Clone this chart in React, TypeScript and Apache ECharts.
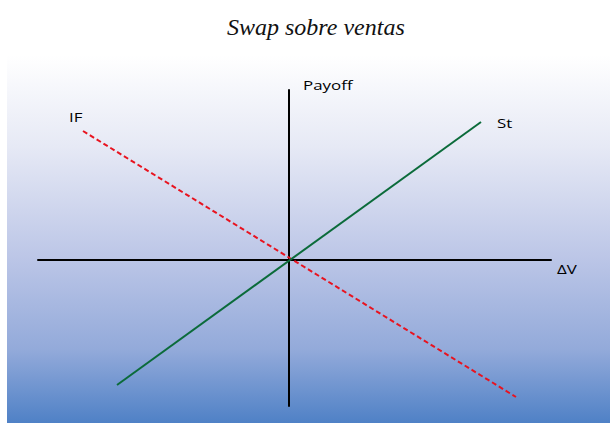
import React, { useEffect, useRef } from "react";
import * as echarts from "echarts";

// Data (ΔV on x, Payoff on y; origin where the axes cross)
const stPoints: number[][] = [
  [-172, -125],
  [192, 138],
];
const ifPoints: number[][] = [
  [-206, 129],
  [227, -137],
];
const xRange = [-251, 262];
const yRange = [-146, 170];
const titleText = "Swap sobre ventas";
const axisNames = { x: "ΔV", y: "Payoff" };
const seriesNames = ["St", "IF"];

export default function App() {
  const ref = useRef<HTMLDivElement>(null);
  useEffect(() => {
    if (!ref.current) return;
    const chart = echarts.init(ref.current, null, { renderer: "svg" });
    const labelFont = { fontFamily: "Open Sans", fontSize: 13, fill: "#000" };
    const sx = 1.3;
    chart.setOption({
      animation: false,
      backgroundColor: "#ffffff",
      title: {
        text: titleText,
        left: 222,
        top: 10,
        textStyle: {
          fontFamily: "Liberation Serif",
          fontStyle: "italic",
          fontWeight: "normal",
          fontSize: 24,
          color: "#111",
        },
      },
      graphic: [
        {
          type: "rect",
          z: -10,
          silent: true,
          shape: { x: 7, y: 55, width: 603, height: 368 },
          style: {
            fill: new echarts.graphic.LinearGradient(0, 0, 0, 1, [
              { offset: 0, color: "#ffffff" },
              { offset: 0.25, color: "#e6e9f5" },
              { offset: 0.55, color: "#bcc6e7" },
              { offset: 0.8, color: "#93aada" },
              { offset: 1, color: "#4f81c6" },
            ]),
          },
        },
        { type: "text", x: 303, y: 78, scaleX: sx, style: { ...labelFont, text: axisNames.y } },
        { type: "text", x: 557, y: 262, scaleX: sx, style: { ...labelFont, text: axisNames.x } },
        { type: "text", x: 497, y: 116, scaleX: sx, style: { ...labelFont, text: seriesNames[0] } },
        { type: "text", x: 69, y: 110, scaleX: sx, style: { ...labelFont, text: seriesNames[1] } },
      ],
      grid: { left: 38, top: 90, width: 513, height: 316, containLabel: false },
      xAxis: {
        type: "value",
        min: xRange[0],
        max: xRange[1],
        axisLine: { onZero: true, lineStyle: { color: "#000", width: 2 } },
        axisTick: { show: false },
        axisLabel: { show: false },
        splitLine: { show: false },
      },
      yAxis: {
        type: "value",
        min: yRange[0],
        max: yRange[1],
        axisLine: { onZero: true, lineStyle: { color: "#000", width: 2 } },
        axisTick: { show: false },
        axisLabel: { show: false },
        splitLine: { show: false },
      },
      series: [
        {
          name: seriesNames[0],
          type: "line",
          data: stPoints,
          symbol: "none",
          silent: true,
          lineStyle: { color: "#0b6b3a", width: 2 },
          z: 3,
        },
        {
          name: seriesNames[1],
          type: "line",
          data: ifPoints,
          symbol: "none",
          silent: true,
          lineStyle: { color: "#e8131f", width: 2, type: [5, 3] },
          z: 2,
        },
      ],
    });
    return () => chart.dispose();
  }, []);
  return (
    <div
      ref={ref}
      style={{ position: "fixed", left: 0, top: 0, width: 610, height: 423 }}
    />
  );
}
